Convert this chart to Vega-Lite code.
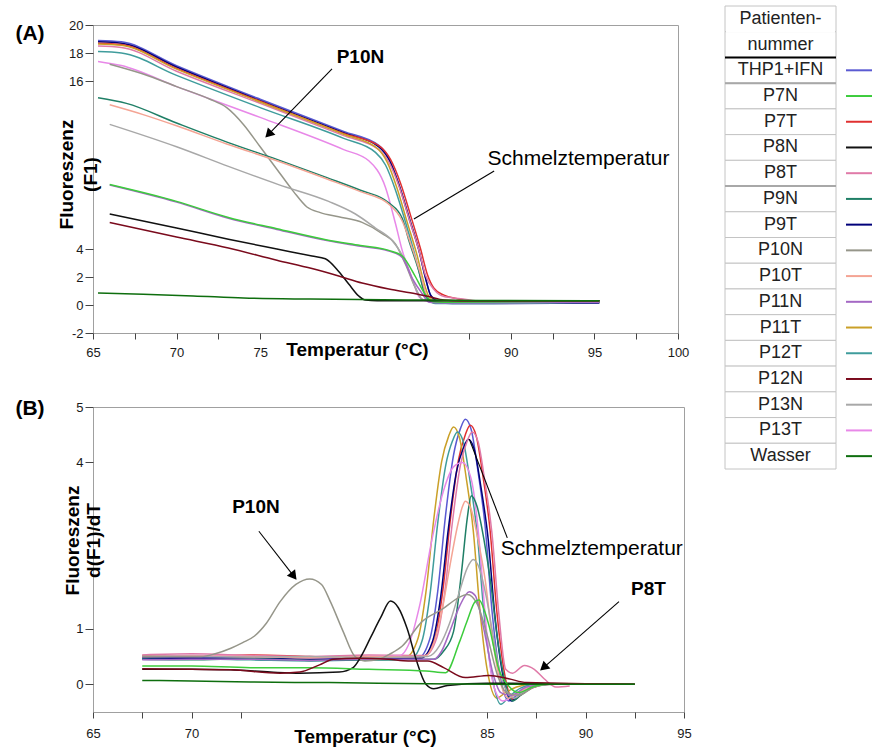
{
"$schema": "https://vega.github.io/schema/vega-lite/v6.json",
"background": "white",
"padding": {"left": 14, "top": 5, "right": 0, "bottom": 0},
"config": {
  "legend": {"disable": true},
  "view": {"stroke": null},
  "axis": {"grid": false, "domain": false, "labelOverlap": false, "labelFlush": false, "labelFont": "Liberation Sans", "labelFontSize": 13, "labelColor": "#1a1a1a", "tickColor": "#444", "titleFont": "Liberation Sans", "titleFontSize": 19, "titleFontWeight": "bold", "titleColor": "#000"},
  "text": {"font": "Liberation Sans"},
  "line": {"strokeWidth": 1.5, "interpolate": "monotone"}
},
"datasets": {
"A": [
{"s":"THP1+IFN","t":65.3,"v":18.9},{"s":"THP1+IFN","t":66.7,"v":18.8},{"s":"THP1+IFN","t":70,"v":17.1},{"s":"THP1+IFN","t":75,"v":14.7},{"s":"THP1+IFN","t":80,"v":12.4},{"s":"THP1+IFN","t":82.1,"v":11.4},{"s":"THP1+IFN","t":82.7,"v":10.5},{"s":"THP1+IFN","t":83.3,"v":8.6},{"s":"THP1+IFN","t":83.9,"v":6.2},{"s":"THP1+IFN","t":84.5,"v":3.9},{"s":"THP1+IFN","t":84.9,"v":1.9},{"s":"THP1+IFN","t":85.2,"v":0.7},{"s":"THP1+IFN","t":85.7,"v":0.3},{"s":"THP1+IFN","t":87,"v":0.25},{"s":"THP1+IFN","t":95.3,"v":0.25},
{"s":"P9T","t":65.3,"v":18.8},{"s":"P9T","t":66.7,"v":18.7},{"s":"P9T","t":70,"v":17.0},{"s":"P9T","t":75,"v":14.6},{"s":"P9T","t":80,"v":12.3},{"s":"P9T","t":82.1,"v":11.3},{"s":"P9T","t":82.7,"v":10.4},{"s":"P9T","t":83.3,"v":8.6},{"s":"P9T","t":83.9,"v":6.3},{"s":"P9T","t":84.5,"v":3.9},{"s":"P9T","t":84.9,"v":1.9},{"s":"P9T","t":85.2,"v":0.7},{"s":"P9T","t":85.7,"v":0.2},{"s":"P9T","t":86.5,"v":0.1},{"s":"P9T","t":95.3,"v":0.15},
{"s":"P7T","t":65.3,"v":18.7},{"s":"P7T","t":66.7,"v":18.6},{"s":"P7T","t":70,"v":16.9},{"s":"P7T","t":75,"v":14.55},{"s":"P7T","t":80,"v":12.25},{"s":"P7T","t":82.2,"v":11.3},{"s":"P7T","t":82.8,"v":10.4},{"s":"P7T","t":83.4,"v":8.7},{"s":"P7T","t":84.0,"v":6.4},{"s":"P7T","t":84.6,"v":4.0},{"s":"P7T","t":85.0,"v":2.2},{"s":"P7T","t":85.4,"v":1.2},{"s":"P7T","t":86.0,"v":0.7},{"s":"P7T","t":86.8,"v":0.45},{"s":"P7T","t":87.5,"v":0.3},{"s":"P7T","t":95.3,"v":0.25},
{"s":"P8T","t":65.3,"v":18.5},{"s":"P8T","t":66.7,"v":18.4},{"s":"P8T","t":70,"v":16.7},{"s":"P8T","t":75,"v":14.4},{"s":"P8T","t":80,"v":12.1},{"s":"P8T","t":82.1,"v":11.1},{"s":"P8T","t":82.7,"v":10.2},{"s":"P8T","t":83.3,"v":8.5},{"s":"P8T","t":83.9,"v":6.2},{"s":"P8T","t":84.5,"v":3.9},{"s":"P8T","t":84.9,"v":2.1},{"s":"P8T","t":85.4,"v":1.1},{"s":"P8T","t":86.0,"v":0.6},{"s":"P8T","t":87.0,"v":0.45},{"s":"P8T","t":88.0,"v":0.3},{"s":"P8T","t":95.3,"v":0.3},
{"s":"P11T","t":65.3,"v":18.65},{"s":"P11T","t":66.7,"v":18.55},{"s":"P11T","t":70,"v":16.85},{"s":"P11T","t":75,"v":14.5},{"s":"P11T","t":80,"v":12.2},{"s":"P11T","t":82.0,"v":11.2},{"s":"P11T","t":82.6,"v":10.2},{"s":"P11T","t":83.2,"v":8.3},{"s":"P11T","t":83.8,"v":5.9},{"s":"P11T","t":84.4,"v":3.5},{"s":"P11T","t":84.8,"v":1.6},{"s":"P11T","t":85.1,"v":0.6},{"s":"P11T","t":85.6,"v":0.25},{"s":"P11T","t":95.3,"v":0.25},
{"s":"P12T","t":65.3,"v":18.1},{"s":"P12T","t":66.7,"v":18.0},{"s":"P12T","t":70,"v":16.4},{"s":"P12T","t":75,"v":14.1},{"s":"P12T","t":80,"v":11.9},{"s":"P12T","t":81.9,"v":10.9},{"s":"P12T","t":82.5,"v":10.0},{"s":"P12T","t":83.1,"v":8.2},{"s":"P12T","t":83.7,"v":5.9},{"s":"P12T","t":84.3,"v":3.4},{"s":"P12T","t":84.7,"v":1.5},{"s":"P12T","t":85.0,"v":0.5},{"s":"P12T","t":85.5,"v":0.1},{"s":"P12T","t":86.5,"v":0.1},{"s":"P12T","t":95.3,"v":0.2},
{"s":"P13T","t":65.3,"v":17.4},{"s":"P13T","t":66.7,"v":17.1},{"s":"P13T","t":70,"v":15.6},{"s":"P13T","t":75,"v":13.4},{"s":"P13T","t":80,"v":11.1},{"s":"P13T","t":81.5,"v":10.3},{"s":"P13T","t":82.5,"v":8.4},{"s":"P13T","t":83.1,"v":5.8},{"s":"P13T","t":83.5,"v":3.9},{"s":"P13T","t":84.1,"v":1.9},{"s":"P13T","t":84.5,"v":0.6},{"s":"P13T","t":85.0,"v":0.3},{"s":"P13T","t":95.3,"v":0.3},
{"s":"P10N","t":66.0,"v":17.2},{"s":"P10N","t":68,"v":16.5},{"s":"P10N","t":70,"v":15.6},{"s":"P10N","t":72,"v":14.7},{"s":"P10N","t":73.0,"v":14.1},{"s":"P10N","t":74.0,"v":12.9},{"s":"P10N","t":75.0,"v":11.3},{"s":"P10N","t":76.0,"v":9.7},{"s":"P10N","t":77.0,"v":8.1},{"s":"P10N","t":77.8,"v":7.0},{"s":"P10N","t":78.6,"v":6.6},{"s":"P10N","t":79.7,"v":6.3},{"s":"P10N","t":81.1,"v":5.9},{"s":"P10N","t":82.3,"v":5.1},{"s":"P10N","t":83.1,"v":4.35},{"s":"P10N","t":83.7,"v":2.9},{"s":"P10N","t":84.3,"v":1.2},{"s":"P10N","t":84.7,"v":0.4},{"s":"P10N","t":85.5,"v":0.25},{"s":"P10N","t":95.3,"v":0.25},
{"s":"P13N","t":66.0,"v":12.9},{"s":"P13N","t":70,"v":11.3},{"s":"P13N","t":73.1,"v":9.9},{"s":"P13N","t":76.1,"v":8.6},{"s":"P13N","t":79.1,"v":7.4},{"s":"P13N","t":80.7,"v":6.5},{"s":"P13N","t":81.9,"v":5.5},{"s":"P13N","t":82.9,"v":4.6},{"s":"P13N","t":83.7,"v":3.1},{"s":"P13N","t":84.3,"v":1.2},{"s":"P13N","t":84.7,"v":0.4},{"s":"P13N","t":85.5,"v":0.25},{"s":"P13N","t":95.3,"v":0.25},
{"s":"P9N","t":65.3,"v":14.8},{"s":"P9N","t":67,"v":14.4},{"s":"P9N","t":70,"v":13.0},{"s":"P9N","t":73.1,"v":11.6},{"s":"P9N","t":76,"v":10.4},{"s":"P9N","t":79,"v":9.1},{"s":"P9N","t":81,"v":8.2},{"s":"P9N","t":82.7,"v":7.3},{"s":"P9N","t":83.5,"v":6.2},{"s":"P9N","t":83.9,"v":4.6},{"s":"P9N","t":84.5,"v":2.4},{"s":"P9N","t":84.9,"v":0.6},{"s":"P9N","t":85.4,"v":0.2},{"s":"P9N","t":95.3,"v":0.2},
{"s":"P10T","t":66.0,"v":14.3},{"s":"P10T","t":68,"v":13.6},{"s":"P10T","t":70,"v":12.8},{"s":"P10T","t":73,"v":11.5},{"s":"P10T","t":76,"v":10.3},{"s":"P10T","t":79,"v":9.0},{"s":"P10T","t":81,"v":8.1},{"s":"P10T","t":82.7,"v":7.2},{"s":"P10T","t":83.5,"v":6.0},{"s":"P10T","t":84.0,"v":4.4},{"s":"P10T","t":84.6,"v":2.2},{"s":"P10T","t":85.0,"v":0.6},{"s":"P10T","t":85.5,"v":0.25},{"s":"P10T","t":95.3,"v":0.25},
{"s":"P11N","t":66.0,"v":8.57},{"s":"P11N","t":70,"v":7.35},{"s":"P11N","t":73.1,"v":6.2},{"s":"P11N","t":76,"v":5.4},{"s":"P11N","t":79,"v":4.6},{"s":"P11N","t":81,"v":4.2},{"s":"P11N","t":82.7,"v":3.86},{"s":"P11N","t":83.5,"v":3.4},{"s":"P11N","t":84.1,"v":1.9},{"s":"P11N","t":84.7,"v":0.8},{"s":"P11N","t":85.1,"v":0.2},{"s":"P11N","t":86,"v":0.15},{"s":"P11N","t":95.3,"v":0.2},
{"s":"P7N","t":66.0,"v":8.6},{"s":"P7N","t":70,"v":7.4},{"s":"P7N","t":73.1,"v":6.25},{"s":"P7N","t":76,"v":5.45},{"s":"P7N","t":79,"v":4.65},{"s":"P7N","t":81,"v":4.25},{"s":"P7N","t":82.7,"v":3.9},{"s":"P7N","t":83.5,"v":3.5},{"s":"P7N","t":84.3,"v":2.0},{"s":"P7N","t":84.8,"v":0.9},{"s":"P7N","t":85.3,"v":0.25},{"s":"P7N","t":86,"v":0.2},{"s":"P7N","t":95.3,"v":0.3},
{"s":"P8N","t":66.0,"v":6.5},{"s":"P8N","t":70,"v":5.5},{"s":"P8N","t":73.1,"v":4.7},{"s":"P8N","t":76,"v":4.0},{"s":"P8N","t":78.1,"v":3.5},{"s":"P8N","t":78.9,"v":3.3},{"s":"P8N","t":79.7,"v":2.4},{"s":"P8N","t":80.3,"v":1.5},{"s":"P8N","t":80.9,"v":0.64},{"s":"P8N","t":81.3,"v":0.35},{"s":"P8N","t":82,"v":0.3},{"s":"P8N","t":95.3,"v":0.3},
{"s":"P12N","t":66.0,"v":5.9},{"s":"P12N","t":70,"v":4.85},{"s":"P12N","t":73.1,"v":4.07},{"s":"P12N","t":76,"v":3.2},{"s":"P12N","t":78.1,"v":2.6},{"s":"P12N","t":79.7,"v":2.07},{"s":"P12N","t":81.1,"v":1.57},{"s":"P12N","t":82.7,"v":1.14},{"s":"P12N","t":84.3,"v":0.8},{"s":"P12N","t":85.1,"v":0.6},{"s":"P12N","t":86,"v":0.35},{"s":"P12N","t":87,"v":0.3},{"s":"P12N","t":95.3,"v":0.3},
{"s":"Wasser","t":65.3,"v":0.86},{"s":"Wasser","t":68,"v":0.77},{"s":"Wasser","t":71,"v":0.65},{"s":"Wasser","t":74,"v":0.5},{"s":"Wasser","t":78,"v":0.42},{"s":"Wasser","t":85,"v":0.35},{"s":"Wasser","t":95.3,"v":0.3}
],
"B": [
{"s":"THP1+IFN","t":67.5,"v":0.47},{"s":"THP1+IFN","t":70,"v":0.48},{"s":"THP1+IFN","t":73,"v":0.5},{"s":"THP1+IFN","t":76,"v":0.46},{"s":"THP1+IFN","t":79,"v":0.45},{"s":"THP1+IFN","t":81.5,"v":0.47},{"s":"THP1+IFN","t":82.1,"v":0.82},{"s":"THP1+IFN","t":82.5,"v":1.68},{"s":"THP1+IFN","t":82.9,"v":3.06},{"s":"THP1+IFN","t":83.3,"v":4.13},{"s":"THP1+IFN","t":83.65,"v":4.61},{"s":"THP1+IFN","t":83.9,"v":4.78},{"s":"THP1+IFN","t":84.2,"v":4.59},{"s":"THP1+IFN","t":84.55,"v":3.82},{"s":"THP1+IFN","t":84.9,"v":2.87},{"s":"THP1+IFN","t":85.25,"v":1.34},{"s":"THP1+IFN","t":85.6,"v":0.29},{"s":"THP1+IFN","t":86.1,"v":-0.3},{"s":"THP1+IFN","t":86.5,"v":-0.2},{"s":"THP1+IFN","t":87.1,"v":-0.06},{"s":"THP1+IFN","t":87.9,"v":0},{"s":"THP1+IFN","t":92.5,"v":0},
{"s":"P7T","t":67.5,"v":0.52},{"s":"P7T","t":70,"v":0.5},{"s":"P7T","t":73,"v":0.53},{"s":"P7T","t":76,"v":0.5},{"s":"P7T","t":79,"v":0.48},{"s":"P7T","t":81.75,"v":0.5},{"s":"P7T","t":82.35,"v":0.83},{"s":"P7T","t":82.75,"v":1.67},{"s":"P7T","t":83.15,"v":3.0},{"s":"P7T","t":83.55,"v":4.04},{"s":"P7T","t":83.9,"v":4.5},{"s":"P7T","t":84.15,"v":4.67},{"s":"P7T","t":84.45,"v":4.48},{"s":"P7T","t":84.8,"v":3.74},{"s":"P7T","t":85.15,"v":2.8},{"s":"P7T","t":85.5,"v":1.31},{"s":"P7T","t":85.85,"v":0.28},{"s":"P7T","t":86.35,"v":-0.28},{"s":"P7T","t":86.75,"v":-0.18},{"s":"P7T","t":87.35,"v":-0.06},{"s":"P7T","t":88.15,"v":0},{"s":"P7T","t":92.5,"v":0},
{"s":"P11T","t":67.5,"v":0.5},{"s":"P11T","t":70,"v":0.52},{"s":"P11T","t":73,"v":0.49},{"s":"P11T","t":76,"v":0.48},{"s":"P11T","t":79,"v":0.5},{"s":"P11T","t":80.9,"v":0.5},{"s":"P11T","t":81.5,"v":0.83},{"s":"P11T","t":81.9,"v":1.66},{"s":"P11T","t":82.3,"v":2.98},{"s":"P11T","t":82.7,"v":4.02},{"s":"P11T","t":83.05,"v":4.47},{"s":"P11T","t":83.3,"v":4.64},{"s":"P11T","t":83.6,"v":4.45},{"s":"P11T","t":83.95,"v":3.71},{"s":"P11T","t":84.3,"v":2.78},{"s":"P11T","t":84.65,"v":1.3},{"s":"P11T","t":85.0,"v":0.28},{"s":"P11T","t":85.5,"v":-0.25},{"s":"P11T","t":85.9,"v":-0.16},{"s":"P11T","t":86.5,"v":-0.05},{"s":"P11T","t":87.3,"v":0},{"s":"P11T","t":92.5,"v":0},
{"s":"P12T","t":67.5,"v":0.45},{"s":"P12T","t":70,"v":0.46},{"s":"P12T","t":73,"v":0.44},{"s":"P12T","t":76,"v":0.42},{"s":"P12T","t":79,"v":0.44},{"s":"P12T","t":81.1,"v":0.45},{"s":"P12T","t":81.7,"v":0.78},{"s":"P12T","t":82.1,"v":1.6},{"s":"P12T","t":82.5,"v":2.91},{"s":"P12T","t":82.9,"v":3.94},{"s":"P12T","t":83.25,"v":4.39},{"s":"P12T","t":83.5,"v":4.55},{"s":"P12T","t":83.8,"v":4.37},{"s":"P12T","t":84.15,"v":3.64},{"s":"P12T","t":84.5,"v":2.73},{"s":"P12T","t":84.85,"v":1.27},{"s":"P12T","t":85.2,"v":0.27},{"s":"P12T","t":85.7,"v":-0.36},{"s":"P12T","t":86.1,"v":-0.23},{"s":"P12T","t":86.7,"v":-0.07},{"s":"P12T","t":87.5,"v":0},{"s":"P12T","t":92.5,"v":0},
{"s":"P9T","t":67.5,"v":0.48},{"s":"P9T","t":70,"v":0.47},{"s":"P9T","t":73,"v":0.47},{"s":"P9T","t":76,"v":0.45},{"s":"P9T","t":79,"v":0.46},{"s":"P9T","t":81.65,"v":0.47},{"s":"P9T","t":82.25,"v":0.79},{"s":"P9T","t":82.65,"v":1.58},{"s":"P9T","t":83.05,"v":2.84},{"s":"P9T","t":83.45,"v":3.83},{"s":"P9T","t":83.8,"v":4.26},{"s":"P9T","t":84.05,"v":4.42},{"s":"P9T","t":84.35,"v":4.24},{"s":"P9T","t":84.7,"v":3.54},{"s":"P9T","t":85.05,"v":2.65},{"s":"P9T","t":85.4,"v":1.24},{"s":"P9T","t":85.75,"v":0.27},{"s":"P9T","t":86.25,"v":-0.3},{"s":"P9T","t":86.65,"v":-0.2},{"s":"P9T","t":87.25,"v":-0.06},{"s":"P9T","t":88.05,"v":0},{"s":"P9T","t":92.5,"v":0},
{"s":"P8T","t":67.5,"v":0.53},{"s":"P8T","t":70,"v":0.55},{"s":"P8T","t":73,"v":0.52},{"s":"P8T","t":76,"v":0.5},{"s":"P8T","t":79,"v":0.53},{"s":"P8T","t":81.85,"v":0.52},{"s":"P8T","t":82.45,"v":0.84},{"s":"P8T","t":82.85,"v":1.65},{"s":"P8T","t":83.25,"v":2.94},{"s":"P8T","t":83.65,"v":3.95},{"s":"P8T","t":84.0,"v":4.39},{"s":"P8T","t":84.25,"v":4.55},{"s":"P8T","t":84.55,"v":4.37},{"s":"P8T","t":84.9,"v":3.64},{"s":"P8T","t":85.25,"v":2.73},{"s":"P8T","t":85.6,"v":1.27},{"s":"P8T","t":85.95,"v":0.27},{"s":"P8T","t":86.3,"v":0.2},{"s":"P8T","t":86.9,"v":0.34},{"s":"P8T","t":87.4,"v":0.27},{"s":"P8T","t":87.9,"v":0.1},{"s":"P8T","t":88.5,"v":-0.05},{"s":"P8T","t":89.2,"v":-0.03},
{"s":"P13T","t":67.5,"v":0.5},{"s":"P13T","t":70,"v":0.52},{"s":"P13T","t":73,"v":0.5},{"s":"P13T","t":76,"v":0.48},{"s":"P13T","t":79,"v":0.5},{"s":"P13T","t":80.6,"v":0.52},{"s":"P13T","t":81.0,"v":0.7},{"s":"P13T","t":81.6,"v":1.45},{"s":"P13T","t":82.2,"v":2.6},{"s":"P13T","t":82.8,"v":3.5},{"s":"P13T","t":83.3,"v":3.92},{"s":"P13T","t":83.75,"v":4.0},{"s":"P13T","t":84.2,"v":3.7},{"s":"P13T","t":84.6,"v":2.6},{"s":"P13T","t":84.85,"v":1.5},{"s":"P13T","t":85.1,"v":0.5},{"s":"P13T","t":85.4,"v":-0.1},{"s":"P13T","t":85.8,"v":-0.3},{"s":"P13T","t":86.4,"v":-0.2},{"s":"P13T","t":87.2,"v":-0.05},{"s":"P13T","t":88,"v":0},{"s":"P13T","t":92.5,"v":0},
{"s":"P9N","t":67.5,"v":0.45},{"s":"P9N","t":70,"v":0.44},{"s":"P9N","t":73,"v":0.46},{"s":"P9N","t":76,"v":0.43},{"s":"P9N","t":79,"v":0.44},{"s":"P9N","t":82.3,"v":0.45},{"s":"P9N","t":82.8,"v":0.6},{"s":"P9N","t":83.3,"v":0.95},{"s":"P9N","t":83.7,"v":2.0},{"s":"P9N","t":84.0,"v":3.0},{"s":"P9N","t":84.2,"v":3.4},{"s":"P9N","t":84.5,"v":3.2},{"s":"P9N","t":84.85,"v":2.6},{"s":"P9N","t":85.2,"v":1.8},{"s":"P9N","t":85.5,"v":0.9},{"s":"P9N","t":85.85,"v":0.15},{"s":"P9N","t":86.3,"v":-0.3},{"s":"P9N","t":86.7,"v":-0.2},{"s":"P9N","t":87.3,"v":-0.06},{"s":"P9N","t":88.1,"v":0},{"s":"P9N","t":92.5,"v":0},
{"s":"P10T","t":67.5,"v":0.5},{"s":"P10T","t":70,"v":0.51},{"s":"P10T","t":73,"v":0.5},{"s":"P10T","t":76,"v":0.48},{"s":"P10T","t":79,"v":0.5},{"s":"P10T","t":81.8,"v":0.5},{"s":"P10T","t":82.3,"v":0.75},{"s":"P10T","t":82.7,"v":1.3},{"s":"P10T","t":83.1,"v":2.1},{"s":"P10T","t":83.5,"v":2.85},{"s":"P10T","t":83.75,"v":3.2},{"s":"P10T","t":83.9,"v":3.3},{"s":"P10T","t":84.2,"v":3.15},{"s":"P10T","t":84.55,"v":2.6},{"s":"P10T","t":84.9,"v":1.9},{"s":"P10T","t":85.25,"v":0.9},{"s":"P10T","t":85.6,"v":0.15},{"s":"P10T","t":86.1,"v":-0.25},{"s":"P10T","t":86.5,"v":-0.17},{"s":"P10T","t":87.1,"v":-0.05},{"s":"P10T","t":87.9,"v":0},{"s":"P10T","t":92.5,"v":0},
{"s":"P13N","t":67.5,"v":0.5},{"s":"P13N","t":70,"v":0.5},{"s":"P13N","t":73,"v":0.49},{"s":"P13N","t":76,"v":0.5},{"s":"P13N","t":79,"v":0.48},{"s":"P13N","t":82.0,"v":0.5},{"s":"P13N","t":82.6,"v":0.7},{"s":"P13N","t":83.1,"v":1.1},{"s":"P13N","t":83.6,"v":1.67},{"s":"P13N","t":84.0,"v":2.1},{"s":"P13N","t":84.3,"v":2.25},{"s":"P13N","t":84.6,"v":2.1},{"s":"P13N","t":84.95,"v":1.6},{"s":"P13N","t":85.3,"v":0.9},{"s":"P13N","t":85.6,"v":0.3},{"s":"P13N","t":85.9,"v":-0.05},{"s":"P13N","t":86.4,"v":-0.25},{"s":"P13N","t":86.8,"v":-0.15},{"s":"P13N","t":87.4,"v":-0.05},{"s":"P13N","t":88.2,"v":0},{"s":"P13N","t":92.5,"v":0},
{"s":"P11N","t":67.5,"v":0.44},{"s":"P11N","t":70,"v":0.45},{"s":"P11N","t":73,"v":0.45},{"s":"P11N","t":76,"v":0.43},{"s":"P11N","t":79,"v":0.45},{"s":"P11N","t":82.3,"v":0.45},{"s":"P11N","t":82.7,"v":0.6},{"s":"P11N","t":83.1,"v":0.94},{"s":"P11N","t":83.6,"v":1.4},{"s":"P11N","t":84.1,"v":1.67},{"s":"P11N","t":84.4,"v":1.6},{"s":"P11N","t":84.8,"v":1.06},{"s":"P11N","t":85.3,"v":0.2},{"s":"P11N","t":85.7,"v":-0.15},{"s":"P11N","t":86.2,"v":-0.2},{"s":"P11N","t":87,"v":-0.05},{"s":"P11N","t":88,"v":0},{"s":"P11N","t":92.5,"v":0},
{"s":"P10N","t":67.5,"v":0.5},{"s":"P10N","t":69,"v":0.5},{"s":"P10N","t":70.5,"v":0.5},{"s":"P10N","t":71.2,"v":0.55},{"s":"P10N","t":72.0,"v":0.65},{"s":"P10N","t":72.6,"v":0.75},{"s":"P10N","t":73.2,"v":0.87},{"s":"P10N","t":73.8,"v":1.1},{"s":"P10N","t":74.5,"v":1.49},{"s":"P10N","t":75.3,"v":1.8},{"s":"P10N","t":76.0,"v":1.9},{"s":"P10N","t":76.6,"v":1.8},{"s":"P10N","t":77.05,"v":1.49},{"s":"P10N","t":77.7,"v":0.95},{"s":"P10N","t":78.3,"v":0.5},{"s":"P10N","t":78.8,"v":0.42},{"s":"P10N","t":79.5,"v":0.45},{"s":"P10N","t":80.1,"v":0.55},{"s":"P10N","t":80.7,"v":0.69},{"s":"P10N","t":81.7,"v":1.13},{"s":"P10N","t":82.75,"v":1.36},{"s":"P10N","t":83.5,"v":1.55},{"s":"P10N","t":84.0,"v":1.62},{"s":"P10N","t":84.5,"v":1.45},{"s":"P10N","t":85.0,"v":0.9},{"s":"P10N","t":85.5,"v":0.2},{"s":"P10N","t":86.0,"v":-0.15},{"s":"P10N","t":86.6,"v":-0.2},{"s":"P10N","t":87.5,"v":-0.03},{"s":"P10N","t":88.5,"v":0},{"s":"P10N","t":92.5,"v":0},
{"s":"P8N","t":67.5,"v":0.27},{"s":"P8N","t":70,"v":0.27},{"s":"P8N","t":72,"v":0.26},{"s":"P8N","t":74,"v":0.22},{"s":"P8N","t":75.5,"v":0.2},{"s":"P8N","t":77.5,"v":0.22},{"s":"P8N","t":78.2,"v":0.3},{"s":"P8N","t":78.6,"v":0.5},{"s":"P8N","t":79.1,"v":0.85},{"s":"P8N","t":79.6,"v":1.2},{"s":"P8N","t":80.1,"v":1.5},{"s":"P8N","t":80.5,"v":1.38},{"s":"P8N","t":80.95,"v":1.0},{"s":"P8N","t":81.4,"v":0.45},{"s":"P8N","t":81.9,"v":0.0},{"s":"P8N","t":82.3,"v":-0.08},{"s":"P8N","t":83.0,"v":-0.02},{"s":"P8N","t":85,"v":0.02},{"s":"P8N","t":92.5,"v":0},
{"s":"P7N","t":67.5,"v":0.33},{"s":"P7N","t":70,"v":0.33},{"s":"P7N","t":73,"v":0.3},{"s":"P7N","t":76,"v":0.3},{"s":"P7N","t":79,"v":0.27},{"s":"P7N","t":81.9,"v":0.24},{"s":"P7N","t":82.9,"v":0.21},{"s":"P7N","t":83.6,"v":0.76},{"s":"P7N","t":84.0,"v":1.15},{"s":"P7N","t":84.4,"v":1.49},{"s":"P7N","t":84.6,"v":1.52},{"s":"P7N","t":84.85,"v":1.35},{"s":"P7N","t":85.1,"v":1.06},{"s":"P7N","t":85.6,"v":0.27},{"s":"P7N","t":86.1,"v":-0.03},{"s":"P7N","t":86.6,"v":-0.15},{"s":"P7N","t":87.3,"v":-0.05},{"s":"P7N","t":88,"v":0},{"s":"P7N","t":92.5,"v":0},
{"s":"P12N","t":67.5,"v":0.28},{"s":"P12N","t":70,"v":0.27},{"s":"P12N","t":72,"v":0.26},{"s":"P12N","t":74.5,"v":0.2},{"s":"P12N","t":75.5,"v":0.22},{"s":"P12N","t":76.5,"v":0.35},{"s":"P12N","t":77.2,"v":0.45},{"s":"P12N","t":78.5,"v":0.47},{"s":"P12N","t":80,"v":0.45},{"s":"P12N","t":81,"v":0.42},{"s":"P12N","t":82,"v":0.42},{"s":"P12N","t":82.8,"v":0.3},{"s":"P12N","t":83.9,"v":0.12},{"s":"P12N","t":85.1,"v":0.16},{"s":"P12N","t":86.1,"v":0.1},{"s":"P12N","t":87,"v":0.03},{"s":"P12N","t":92.5,"v":0},
{"s":"Wasser","t":67.5,"v":0.07},{"s":"Wasser","t":70,"v":0.06},{"s":"Wasser","t":73,"v":0.04},{"s":"Wasser","t":77,"v":0.03},{"s":"Wasser","t":82,"v":0.01},{"s":"Wasser","t":86,"v":0.0},{"s":"Wasser","t":92.5,"v":0.0}
],
"leg": [
{"band":"h1","label":"Patienten-","kind":"head"},{"band":"h2","label":"nummer","kind":"head"},
{"band":"THP1+IFN","label":"THP1+IFN","kind":"row"},{"band":"P7N","label":"P7N","kind":"row"},{"band":"P7T","label":"P7T","kind":"row"},{"band":"P8N","label":"P8N","kind":"row"},{"band":"P8T","label":"P8T","kind":"row"},{"band":"P9N","label":"P9N","kind":"row"},{"band":"P9T","label":"P9T","kind":"row"},{"band":"P10N","label":"P10N","kind":"row"},{"band":"P10T","label":"P10T","kind":"row"},{"band":"P11N","label":"P11N","kind":"row"},{"band":"P11T","label":"P11T","kind":"row"},{"band":"P12T","label":"P12T","kind":"row"},{"band":"P12N","label":"P12N","kind":"row"},{"band":"P13N","label":"P13N","kind":"row"},{"band":"P13T","label":"P13T","kind":"row"},{"band":"Wasser","label":"Wasser","kind":"row"}
]
},
"hconcat": [
 {"vconcat": [
  {
   "width": 585, "height": 308,
   "view": {"stroke": "#a0a0a0"},
   "layer": [
    {"data": {"name": "A"}, "mark": {"type": "line"},
     "encoding": {
      "x": {"field": "t", "type": "quantitative", "scale": {"domain": [65, 100], "nice": false, "zero": false},
        "axis": {"title": "Temperatur (°C)", "titleX": 264, "titleY": 16, "titleBaseline": "middle", "titleAlign": "center",
          "values": [65,67.5,70,72.5,75,77.5,80,82.5,85,87.5,90,92.5,95,97.5,100],
          "labelExpr": "indexof([65,70,75,90,95,100], datum.value) >= 0 ? '' + datum.value : ''",
          "labelOverlap": false, "labelFlush": false, "labelBound": false,
          "tickSize": 6, "labelPadding": 7,
          "tickOpacity": {"condition": {"test": "datum.value > 76 && datum.value < 86", "value": 0}, "value": 1}}},
      "y": {"field": "v", "type": "quantitative", "scale": {"domain": [-2, 20], "nice": false, "zero": false},
        "axis": {"title": ["Fluoreszenz", "(F1)"], "titleX": -27, "titleY": 149, "titleBaseline": "middle", "titleAlign": "center", "titleLineHeight": 24,
          "values": [-2,0,2,4,16,18,20],
          "labelExpr": "'' + datum.value",
          "labelOverlap": false, "labelFlush": false, "labelBound": false, "labelSeparation": 0,
          "tickSize": 8, "labelPadding": 2}},
      "color": {"field": "s", "type": "nominal", "legend": null,
        "scale": {"domain": ["THP1+IFN","P7N","P7T","P8N","P8T","P9N","P9T","P10N","P10T","P11N","P11T","P12T","P12N","P13N","P13T","Wasser"],
                  "range": ["#5a5ad2","#3ccc3c","#e03030","#111111","#e07aa8","#1f7f66","#00007a","#96968a","#f4a494","#a468c4","#caa028","#3f9c9c","#7a0a1c","#a8a8a8","#e888e8","#0e6e0e"]}}
     }},
    {"data": {"values": [{"x": 79.3, "y": 16.86, "x2": 75.5, "y2": 12.19}, {"x": 84.2, "y": 6.14, "x2": 89.0, "y2": 9.57}]},
     "mark": {"type": "rule", "color": "black", "strokeWidth": 1.1},
     "encoding": {"x": {"field": "x", "type": "quantitative"}, "y": {"field": "y", "type": "quantitative"}, "x2": {"field": "x2"}, "y2": {"field": "y2"}}},
    {"data": {"values": [{"x": 75.5, "y": 12.19}]},
     "mark": {"type": "point", "shape": "triangle-up", "filled": true, "color": "black", "opacity": 1, "size": 110, "angle": 224},
     "encoding": {"x": {"field": "x", "type": "quantitative"}, "y": {"field": "y", "type": "quantitative"}}},
    {"data": {"values": [{"x": 81.0, "y": 17.7, "text": "P10N"}]},
     "mark": {"type": "text", "fontSize": 19, "fontWeight": "bold", "color": "black"},
     "encoding": {"x": {"field": "x", "type": "quantitative"}, "y": {"field": "y", "type": "quantitative"}, "text": {"field": "text"}}},
    {"data": {"values": [{"x": 88.6, "y": 10.4, "text": "Schmelztemperatur"}]},
     "mark": {"type": "text", "fontSize": 21, "align": "left", "color": "black"},
     "encoding": {"x": {"field": "x", "type": "quantitative"}, "y": {"field": "y", "type": "quantitative"}, "text": {"field": "text"}}},
    {"data": {"values": [{"x": 61.23, "y": 19.36, "text": "(A)"}]},
     "mark": {"type": "text", "fontSize": 21, "fontWeight": "bold", "color": "black"},
     "encoding": {"x": {"field": "x", "type": "quantitative"}, "y": {"field": "y", "type": "quantitative"}, "text": {"field": "text"}}}
   ]
  },
  {
   "width": 591, "height": 305,
   "view": {"stroke": "#a0a0a0"},
   "layer": [
    {"data": {"name": "B"}, "mark": {"type": "line"},
     "encoding": {
      "x": {"field": "t", "type": "quantitative", "scale": {"domain": [65, 95], "nice": false, "zero": false},
        "axis": {"title": "Temperatur (°C)", "titleX": 272, "titleY": 24, "titleBaseline": "middle", "titleAlign": "center",
          "values": [65,67.5,70,72.5,75,77.5,80,82.5,85,87.5,90,92.5,95],
          "labelExpr": "indexof([65,70,85,90,95], datum.value) >= 0 ? '' + datum.value : ''",
          "labelOverlap": false, "labelFlush": false, "labelBound": false,
          "tickSize": 6, "labelPadding": 9,
          "tickOpacity": {"condition": {"test": "datum.value > 73 && datum.value < 84", "value": 0}, "value": 1}}},
      "y": {"field": "v", "type": "quantitative", "scale": {"domain": [-0.5, 5], "nice": false, "zero": false},
        "axis": {"title": ["Fluoreszenz", "d(F1)/dT"], "titleX": -21, "titleY": 133, "titleBaseline": "middle", "titleAlign": "center", "titleLineHeight": 21,
          "values": [0,1,4,5],
          "labelExpr": "'' + datum.value",
          "labelOverlap": false, "labelFlush": false, "labelBound": false, "labelSeparation": 0,
          "tickSize": 8, "labelPadding": 2}},
      "color": {"field": "s", "type": "nominal", "legend": null,
        "scale": {"domain": ["THP1+IFN","P7N","P7T","P8N","P8T","P9N","P9T","P10N","P10T","P11N","P11T","P12T","P12N","P13N","P13T","Wasser"],
                  "range": ["#5a5ad2","#3ccc3c","#e03030","#111111","#e07aa8","#1f7f66","#00007a","#96968a","#f4a494","#a468c4","#caa028","#3f9c9c","#7a0a1c","#a8a8a8","#e888e8","#0e6e0e"]}}
     }},
    {"data": {"values": [{"x": 73.42, "y": 2.76, "x2": 75.19, "y2": 1.95}, {"x": 86.03, "y": 2.64, "x2": 84.1, "y2": 4.42}, {"x": 91.7, "y": 1.49, "x2": 87.87, "y2": 0.30}]},
     "mark": {"type": "rule", "color": "black", "strokeWidth": 1.1},
     "encoding": {"x": {"field": "x", "type": "quantitative"}, "y": {"field": "y", "type": "quantitative"}, "x2": {"field": "x2"}, "y2": {"field": "y2"}}},
    {"data": {"values": [{"x": 75.19, "y": 1.95}]},
     "mark": {"type": "point", "shape": "triangle-up", "filled": true, "color": "black", "opacity": 1, "size": 110, "angle": 142},
     "encoding": {"x": {"field": "x", "type": "quantitative"}, "y": {"field": "y", "type": "quantitative"}}},
    {"data": {"values": [{"x": 87.87, "y": 0.30}]},
     "mark": {"type": "point", "shape": "triangle-up", "filled": true, "color": "black", "opacity": 1, "size": 110, "angle": 229},
     "encoding": {"x": {"field": "x", "type": "quantitative"}, "y": {"field": "y", "type": "quantitative"}}},
    {"data": {"values": [{"x": 73.27, "y": 3.2, "text": "P10N"}, {"x": 93.2, "y": 1.71, "text": "P8T"}]},
     "mark": {"type": "text", "fontSize": 19, "fontWeight": "bold", "color": "black"},
     "encoding": {"x": {"field": "x", "type": "quantitative"}, "y": {"field": "y", "type": "quantitative"}, "text": {"field": "text"}}},
    {"data": {"values": [{"x": 85.7, "y": 2.44, "text": "Schmelztemperatur"}]},
     "mark": {"type": "text", "fontSize": 21, "align": "left", "color": "black"},
     "encoding": {"x": {"field": "x", "type": "quantitative"}, "y": {"field": "y", "type": "quantitative"}, "text": {"field": "text"}}},
    {"data": {"values": [{"x": 61.8, "y": 4.96, "text": "(B)"}]},
     "mark": {"type": "text", "fontSize": 21, "fontWeight": "bold", "color": "black"},
     "encoding": {"x": {"field": "x", "type": "quantitative"}, "y": {"field": "y", "type": "quantitative"}, "text": {"field": "text"}}}
   ]
  }
 ], "spacing": 37},
 {
  "width": 111, "height": 444,
  "data": {"name": "leg"},
  "encoding": {"y": {"field": "band", "type": "nominal", "sort": null, "axis": null,
     "scale": {"domain": ["h1","h2","THP1+IFN","P7N","P7T","P8N","P8T","P9N","P9T","P10N","P10T","P11N","P11T","P12T","P12N","P13N","P13T","Wasser"], "range": [-19, 444], "paddingInner": 0, "paddingOuter": 0}}},
  "layer": [
   {"mark": {"type": "rect", "fill": "white", "stroke": "#c4c4c4", "strokeWidth": 1},
    "encoding": {"x": {"datum": 0, "type": "quantitative", "scale": {"domain": [0, 111], "nice": false, "zero": false}, "axis": null}, "x2": {"datum": 111}}},
   {"transform": [{"filter": "datum.band == 'h2'"}],
    "mark": {"type": "rule", "color": "white", "strokeWidth": 2},
    "encoding": {"x": {"datum": 1, "type": "quantitative"}, "x2": {"datum": 110}, "y": {"field": "band", "type": "nominal", "bandPosition": 0}}},
   {"mark": {"type": "text", "fontSize": 18, "color": "#222222"},
    "encoding": {"x": {"datum": 55.5, "type": "quantitative"}, "text": {"field": "label"}}},
   {"transform": [{"filter": "datum.kind == 'row'"}],
    "mark": {"type": "rule", "strokeWidth": 2},
    "encoding": {"x": {"datum": 121, "type": "quantitative"}, "x2": {"datum": 150},
      "color": {"field": "band", "type": "nominal", "legend": null,
        "scale": {"domain": ["THP1+IFN","P7N","P7T","P8N","P8T","P9N","P9T","P10N","P10T","P11N","P11T","P12T","P12N","P13N","P13T","Wasser"],
                  "range": ["#5a5ad2","#3ccc3c","#e03030","#111111","#e07aa8","#1f7f66","#00007a","#96968a","#f4a494","#a468c4","#caa028","#3f9c9c","#7a0a1c","#a8a8a8","#e888e8","#0e6e0e"]}}}},
   {"transform": [{"filter": "datum.band == 'P7N' || datum.band == 'P9N'"}],
    "mark": {"type": "rule", "color": "#a8a8a8", "strokeWidth": 2},
    "encoding": {"x": {"datum": 0, "type": "quantitative"}, "x2": {"datum": 111}, "y": {"field": "band", "type": "nominal", "bandPosition": 0}}},
   {"transform": [{"filter": "datum.band == 'THP1+IFN'"}],
    "mark": {"type": "rule", "color": "black", "strokeWidth": 2},
    "encoding": {"x": {"datum": 0, "type": "quantitative"}, "x2": {"datum": 111}, "y": {"field": "band", "type": "nominal", "bandPosition": 0}}}
  ]
 }
],
"spacing": 32
}
